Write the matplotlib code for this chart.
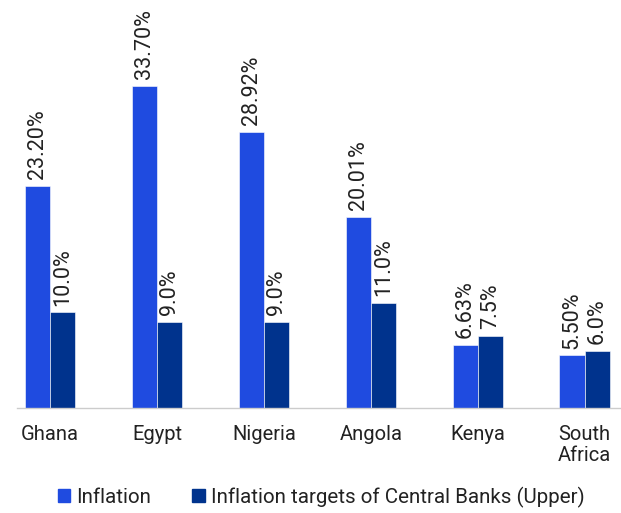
import numpy as np
import matplotlib.pyplot as plt
from matplotlib.patches import Patch

countries = ['Ghana', 'Egypt', 'Nigeria', 'Angola', 'Kenya', 'South\nAfrica']
inflation = [23.20, 33.70, 28.92, 20.01, 6.63, 5.50]
targets = [10.0, 9.0, 9.0, 11.0, 7.5, 6.0]
inflation_labels = ['23.20%', '33.70%', '28.92%', '20.01%', '6.63%', '5.50%']
target_labels = ['10.0%', '9.0%', '9.0%', '11.0%', '7.5%', '6.0%']

blue = '#1f4be0'
navy = '#00338d'
text_color = '#222222'

plt.rcParams['font.family'] = ['Roboto', 'DejaVu Sans']

fig = plt.figure(figsize=(6.21, 5.13), dpi=100)
ax = fig.add_axes([17 / 621, 1 - 408 / 513, 604 / 621, 408 / 513])

x = np.arange(len(countries))
w = 0.236
b1 = ax.bar(x - w / 2, inflation, w, color=blue, edgecolor='white', linewidth=0.4)
b2 = ax.bar(x + w / 2, targets, w, color=navy, edgecolor='white', linewidth=0.4)

for bars, labels in ((b1, inflation_labels), (b2, target_labels)):
    for bar, lab in zip(bars, labels):
        ax.annotate(lab, (bar.get_x() + bar.get_width() / 2, bar.get_height()),
                    xytext=(0, 5), textcoords='offset points',
                    rotation=90, ha='center', va='bottom',
                    fontsize=15.5, color=text_color)

ax.set_xlim(-0.31, 5.34)
ax.set_ylim(0, 42.7)
ax.set_xticks(x)
ax.set_xticklabels(countries, fontsize=14.5, color=text_color, linespacing=1.15)
ax.tick_params(axis='x', length=0, pad=12)
ax.set_yticks([])
for s in ['top', 'right', 'left']:
    ax.spines[s].set_visible(False)
ax.spines['bottom'].set_color('#cccccc')
ax.spines['bottom'].set_linewidth(1.0)

handles = [Patch(color=blue, label='Inflation'),
           Patch(color=navy, label='Inflation targets of Central Banks (Upper)')]
fig.legend(handles=handles, loc='center', bbox_to_anchor=(0.517, 16 / 513),
           ncol=2, frameon=False, fontsize=14.8, handlelength=0.6, handleheight=0.6,
           handletextpad=0.3, columnspacing=2.0, labelcolor=text_color)

fig.savefig('out.png', dpi=100)
